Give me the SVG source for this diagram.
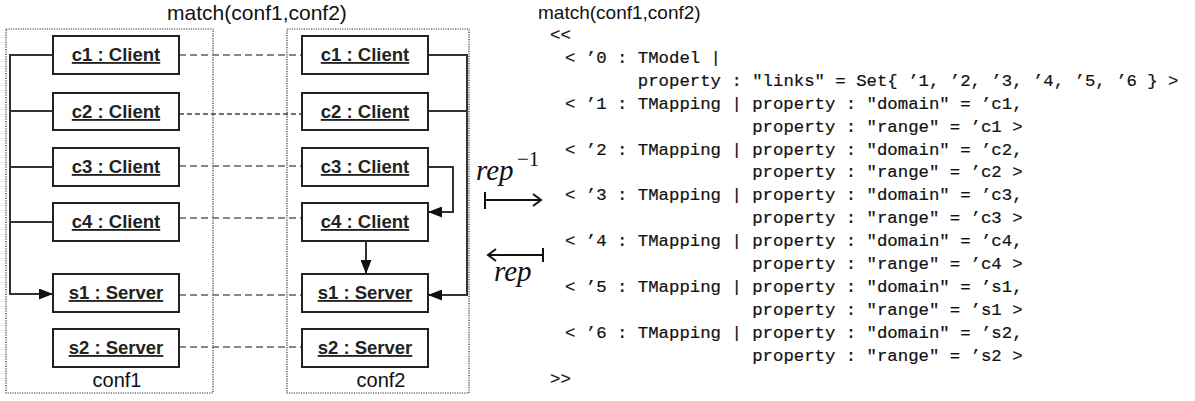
<svg xmlns="http://www.w3.org/2000/svg" width="1195" height="401" viewBox="0 0 1195 401">
<defs>
<marker id="tri" viewBox="0 0 14 11" refX="14" refY="5.5" markerWidth="14" markerHeight="11" markerUnits="userSpaceOnUse" orient="auto"><path d="M0,0 L14,5.5 L0,11 z" fill="#111"/></marker>
</defs>
<style>
.frame{fill:none;stroke:#333;stroke-width:1.2;stroke-dasharray:1.2 1.2}
.node rect{fill:#fff;stroke:#222;stroke-width:2}
.node text{font-family:"Liberation Sans",Arial,sans-serif;font-weight:bold;font-size:18.5px;text-anchor:middle;text-decoration:underline;fill:#222}
.lbl{font-family:"Liberation Sans",Arial,sans-serif;font-size:20px;fill:#111}
.link{fill:none;stroke:#333;stroke-width:2}
.map{fill:none;stroke:#888;stroke-width:2;stroke-dasharray:7 4}
.code{font-family:"Liberation Mono","Courier New",monospace;font-size:17.33px;fill:#111;stroke:#111;stroke-width:0.2}
.math{font-family:"Liberation Serif","Times New Roman",serif;font-style:italic;font-size:29px;fill:#111}
.sup{font-family:"Liberation Serif","Times New Roman",serif;font-size:21px;fill:#111}
.rarr{fill:none;stroke:#111;stroke-width:2}
</style>

<text class="lbl" x="257" y="20" text-anchor="middle" style="font-size:21px">match(conf1,conf2)</text>
<rect class="frame" x="6" y="29" width="207" height="364"/>
<rect class="frame" x="287" y="29" width="182" height="364"/>
<text class="lbl" x="117" y="387" text-anchor="middle">conf1</text>
<text class="lbl" x="381" y="387" text-anchor="middle">conf2</text>

<g id="connectors">
<path class="map" d="M179,55 H302"/>
<path class="map" d="M179,114 H302" style="stroke:#444;stroke-width:1.4;stroke-dasharray:5 3"/>
<path class="map" d="M179,166 H302"/>
<path class="map" d="M179,218 H302"/>
<path class="map" d="M179,295 H302"/>
<path class="map" d="M179,347 H302"/>
<path class="link" d="M53,55 H10 V294 H53" marker-end="url(#tri)"/>
<path class="link" d="M10,111 H53"/>
<path class="link" d="M10,167 H53"/>
<path class="link" d="M10,222 H53"/>
<path class="link" d="M428,55 H467 V295 H428" marker-end="url(#tri)"/>
<path class="link" d="M428,111 H467"/>
<path class="link" d="M428,167 H453 V212 H428" marker-end="url(#tri)"/>
<path class="link" d="M366,241 V274" marker-end="url(#tri)"/>
</g>

<g id="conf1-c1" class="node"><rect x="53" y="36" width="126" height="38"/><text x="116" y="61">c1 : Client</text></g>
<g id="conf1-c2" class="node"><rect x="53" y="93" width="126" height="37"/><text x="116" y="118">c2 : Client</text></g>
<g id="conf1-c3" class="node"><rect x="53" y="148" width="126" height="38"/><text x="116" y="173">c3 : Client</text></g>
<g id="conf1-c4" class="node"><rect x="53" y="203" width="126" height="38"/><text x="116" y="228">c4 : Client</text></g>
<g id="conf1-s1" class="node"><rect x="53" y="274" width="126" height="38"/><text x="116" y="299">s1 : Server</text></g>
<g id="conf1-s2" class="node"><rect x="53" y="329" width="126" height="38"/><text x="116" y="354">s2 : Server</text></g>

<g id="conf2-c1" class="node"><rect x="302" y="36" width="126" height="38"/><text x="365" y="61">c1 : Client</text></g>
<g id="conf2-c2" class="node"><rect x="302" y="93" width="126" height="37"/><text x="365" y="118">c2 : Client</text></g>
<g id="conf2-c3" class="node"><rect x="302" y="148" width="126" height="38"/><text x="365" y="173">c3 : Client</text></g>
<g id="conf2-c4" class="node"><rect x="302" y="203" width="126" height="38"/><text x="365" y="228">c4 : Client</text></g>
<g id="conf2-s1" class="node"><rect x="302" y="274" width="126" height="38"/><text x="365" y="299">s1 : Server</text></g>
<g id="conf2-s2" class="node"><rect x="302" y="329" width="126" height="38"/><text x="365" y="354">s2 : Server</text></g>

<g id="rep-arrows">
<text class="math" x="476" y="180">rep</text>
<text class="sup" x="517" y="166">−1</text>
<path class="rarr" d="M485,200 H541 M485,192 V209 M533,194 L541,200 L533,206"/>
<path class="rarr" d="M488,255 H543 M543,248 V262 M496,249 L488,255 L496,261"/>
<text class="math" x="494" y="281">rep</text>
</g>

<text class="lbl" x="538" y="19" style="font-size:19px">match(conf1,conf2)</text>
<g id="code" class="code">
<text x="550" y="40">&lt;&lt;</text>
<text x="565" y="62.9">&lt; ’0 : TModel |</text>
<text x="637.8" y="85.8">property : "links" = Set{ ’1, ’2, ’3, ’4, ’5, ’6 } &gt;</text>
<text x="565" y="108.7">&lt; ’1 : TMapping | property : "domain" = ’c1,</text>
<text x="752.2" y="131.6">property : "range" = ’c1 &gt;</text>
<text x="565" y="154.5">&lt; ’2 : TMapping | property : "domain" = ’c2,</text>
<text x="752.2" y="177.4">property : "range" = ’c2 &gt;</text>
<text x="565" y="200.3">&lt; ’3 : TMapping | property : "domain" = ’c3,</text>
<text x="752.2" y="223.2">property : "range" = ’c3 &gt;</text>
<text x="565" y="246.1">&lt; ’4 : TMapping | property : "domain" = ’c4,</text>
<text x="752.2" y="269">property : "range" = ’c4 &gt;</text>
<text x="565" y="291.9">&lt; ’5 : TMapping | property : "domain" = ’s1,</text>
<text x="752.2" y="314.8">property : "range" = ’s1 &gt;</text>
<text x="565" y="337.7">&lt; ’6 : TMapping | property : "domain" = ’s2,</text>
<text x="752.2" y="360.6">property : "range" = ’s2 &gt;</text>
<text x="550" y="383.5">&gt;&gt;</text>
</g>
</svg>
